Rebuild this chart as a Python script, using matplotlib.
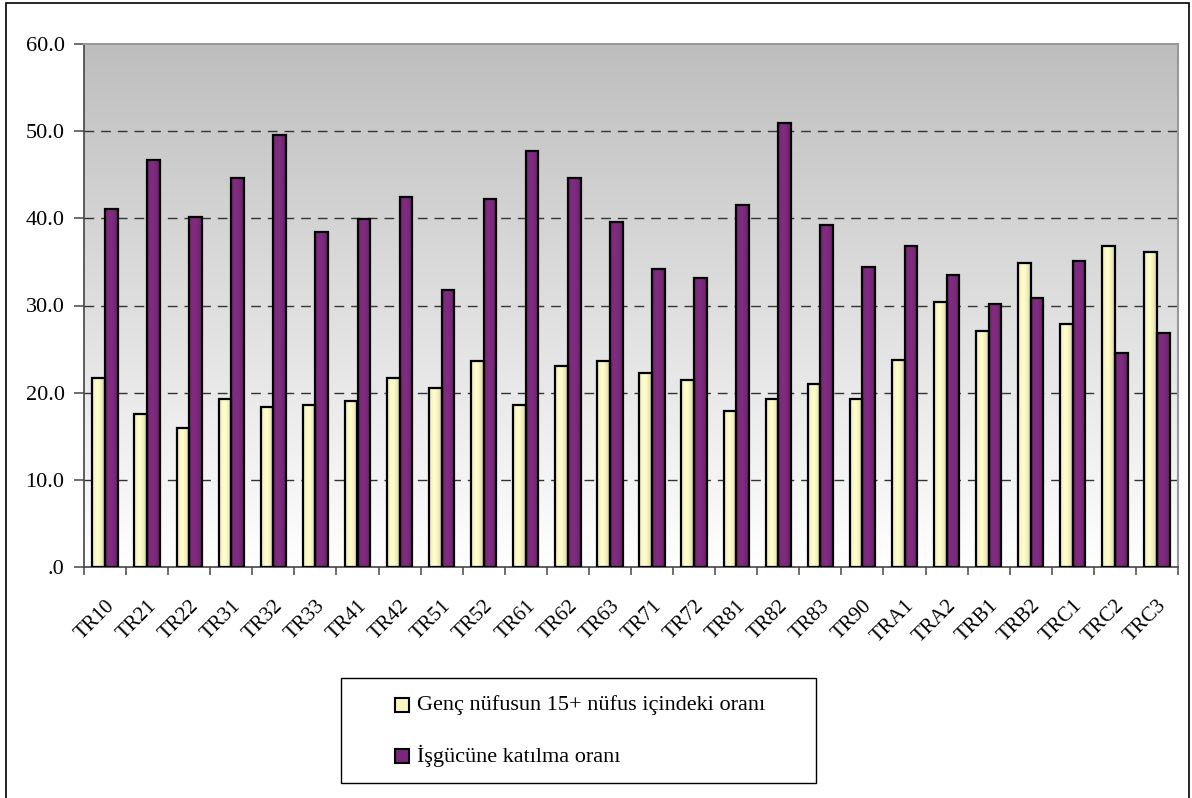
"""Bar chart: youth share vs labour force participation by NUTS-2 region."""
import matplotlib
matplotlib.use('Agg')
import matplotlib.pyplot as plt
import matplotlib.patches as mpatches
import matplotlib.transforms as mtransforms
import numpy as np

plt.rcParams.update({
    'font.family': ['Liberation Serif', 'DejaVu Serif'],
    'font.size': 14,
})

regions = ['TR10', 'TR21', 'TR22', 'TR31', 'TR32', 'TR33', 'TR41', 'TR42', 'TR51',
           'TR52', 'TR61', 'TR62', 'TR63', 'TR71', 'TR72', 'TR81', 'TR82', 'TR83',
           'TR90', 'TRA1', 'TRA2', 'TRB1', 'TRB2', 'TRC1', 'TRC2', 'TRC3']
youth_share = [21.7, 17.6, 16.0, 19.3, 18.4, 18.6, 19.1, 21.7, 20.5, 23.6, 18.6, 23.1, 23.6,
               22.2, 21.5, 17.9, 19.3, 21.0, 19.3, 23.8, 30.4, 27.1, 34.9, 27.9, 36.8, 36.1]
participation = [41.1, 46.7, 40.2, 44.6, 49.6, 38.4, 39.9, 42.5, 31.8, 42.2, 47.7, 44.6, 39.6,
                 34.2, 33.2, 41.5, 50.9, 39.2, 34.4, 36.8, 33.5, 30.2, 30.9, 35.1, 24.5, 26.9]
series_names = ['Genç nüfusun 15+ nüfus içindeki oranı', 'İşgücüne katılma oranı']
y_ticks = [0, 10, 20, 30, 40, 50, 60]
y_ticklabels = ['.0', '10.0', '20.0', '30.0', '40.0', '50.0', '60.0']

YELLOW = '#FAF7BC'
PURPLE = '#7A267A'

W, H = 1192, 798
fig = plt.figure(figsize=(W / 100, H / 100), dpi=100)
ax = fig.add_axes([84 / W, 1 - 567 / H, (1178 - 84) / W, (567 - 44) / H])

x = np.arange(len(regions))
bw = 0.3

# grey-to-white background gradient
grad = np.linspace(0.745, 1.0, 256).reshape(-1, 1)
ax.imshow(np.dstack([grad, grad, grad]), extent=[-0.5, len(regions) - 0.5, 0, 60],
          origin='upper', aspect='auto', zorder=0)


def shaded_bars(xpos, vals, edge_rgb, mid_rgb):
    bars = ax.bar(xpos, vals, bw, color=mid_rgb, edgecolor='none', zorder=3)
    t = np.linspace(0, 1, 64)
    k = np.clip(np.sin(np.pi * (0.15 + 0.85 * t)), 0, 1)[None, :, None]
    img = np.array(edge_rgb)[None, None, :] + (np.array(mid_rgb) - np.array(edge_rgb))[None, None, :] * k
    for r in bars:
        x0, w, h = r.get_x(), r.get_width(), r.get_height()
        im = ax.imshow(img, extent=[x0, x0 + w, 0, h], aspect='auto', zorder=3.5)
        im.set_clip_path(r)
    ax.bar(xpos, vals, bw, fill=False, edgecolor='black', linewidth=1.6, zorder=4)


shaded_bars(x - bw / 2, youth_share, (0.82, 0.81, 0.60), (1.0, 0.99, 0.80))
shaded_bars(x + bw / 2, participation, (0.40, 0.12, 0.40), (0.50, 0.17, 0.50))

ax.set_xlim(-0.5, len(regions) - 0.5)
ax.set_ylim(0, 60)
ax.set_yticks(y_ticks)
ax.set_yticklabels(y_ticklabels, fontsize=16)
for yv in y_ticks[1:-1]:
    ax.axhline(yv, color='#333333', lw=1, ls=(0, (7, 5)), zorder=1)

ax.set_xticks(np.arange(len(regions) + 1) - 0.5)
ax.set_xticklabels([])
ax.set_xticks(x, minor=True)
ax.set_xticklabels(regions, minor=True, rotation=45, ha='right', va='top',
                   rotation_mode='anchor', fontsize=15)
shift = mtransforms.ScaledTranslation(-4 / 100, 0, fig.dpi_scale_trans)
for lab in ax.get_xticklabels(minor=True):
    lab.set_transform(lab.get_transform() + shift)
ax.tick_params(axis='x', which='minor', length=0, pad=21)
ax.tick_params(axis='x', which='major', length=6, width=1.2, color='#555555')
ax.tick_params(axis='y', length=7, width=1.2, color='#555555', pad=7)

for s in ['top', 'right']:
    ax.spines[s].set_color('#999999')
    ax.spines[s].set_linewidth(1.5)
for s in ['left', 'bottom']:
    ax.spines[s].set_color('#444444')
    ax.spines[s].set_linewidth(1.2)

# legend box
lx0, ly0, lw_, lh = 341 / W, 1 - 783 / H, (816 - 341) / W, (783 - 678) / H
fig.add_artist(mpatches.Rectangle((lx0, ly0), lw_, lh, transform=fig.transFigure,
                                  facecolor='white', edgecolor='black', lw=1))
for i, (name, col) in enumerate(zip(series_names, [YELLOW, PURPLE])):
    cy = 1 - (705 + 51 * i) / H
    fig.add_artist(mpatches.Rectangle((395 / W, cy - 7 / H), 14 / W, 14 / H,
                                      transform=fig.transFigure, facecolor=col,
                                      edgecolor='black', lw=1.5))
    fig.text(417 / W, cy, name, ha='left', va='center', fontsize=16)

# outer frame
fig.add_artist(mpatches.Rectangle((6 / W, -0.01), (1189 - 6) / W, 1 - 3 / H + 0.01,
                                  transform=fig.transFigure, fill=False,
                                  edgecolor='black', lw=1.2))

fig.savefig('out.png', dpi=100)
plt.close(fig)
